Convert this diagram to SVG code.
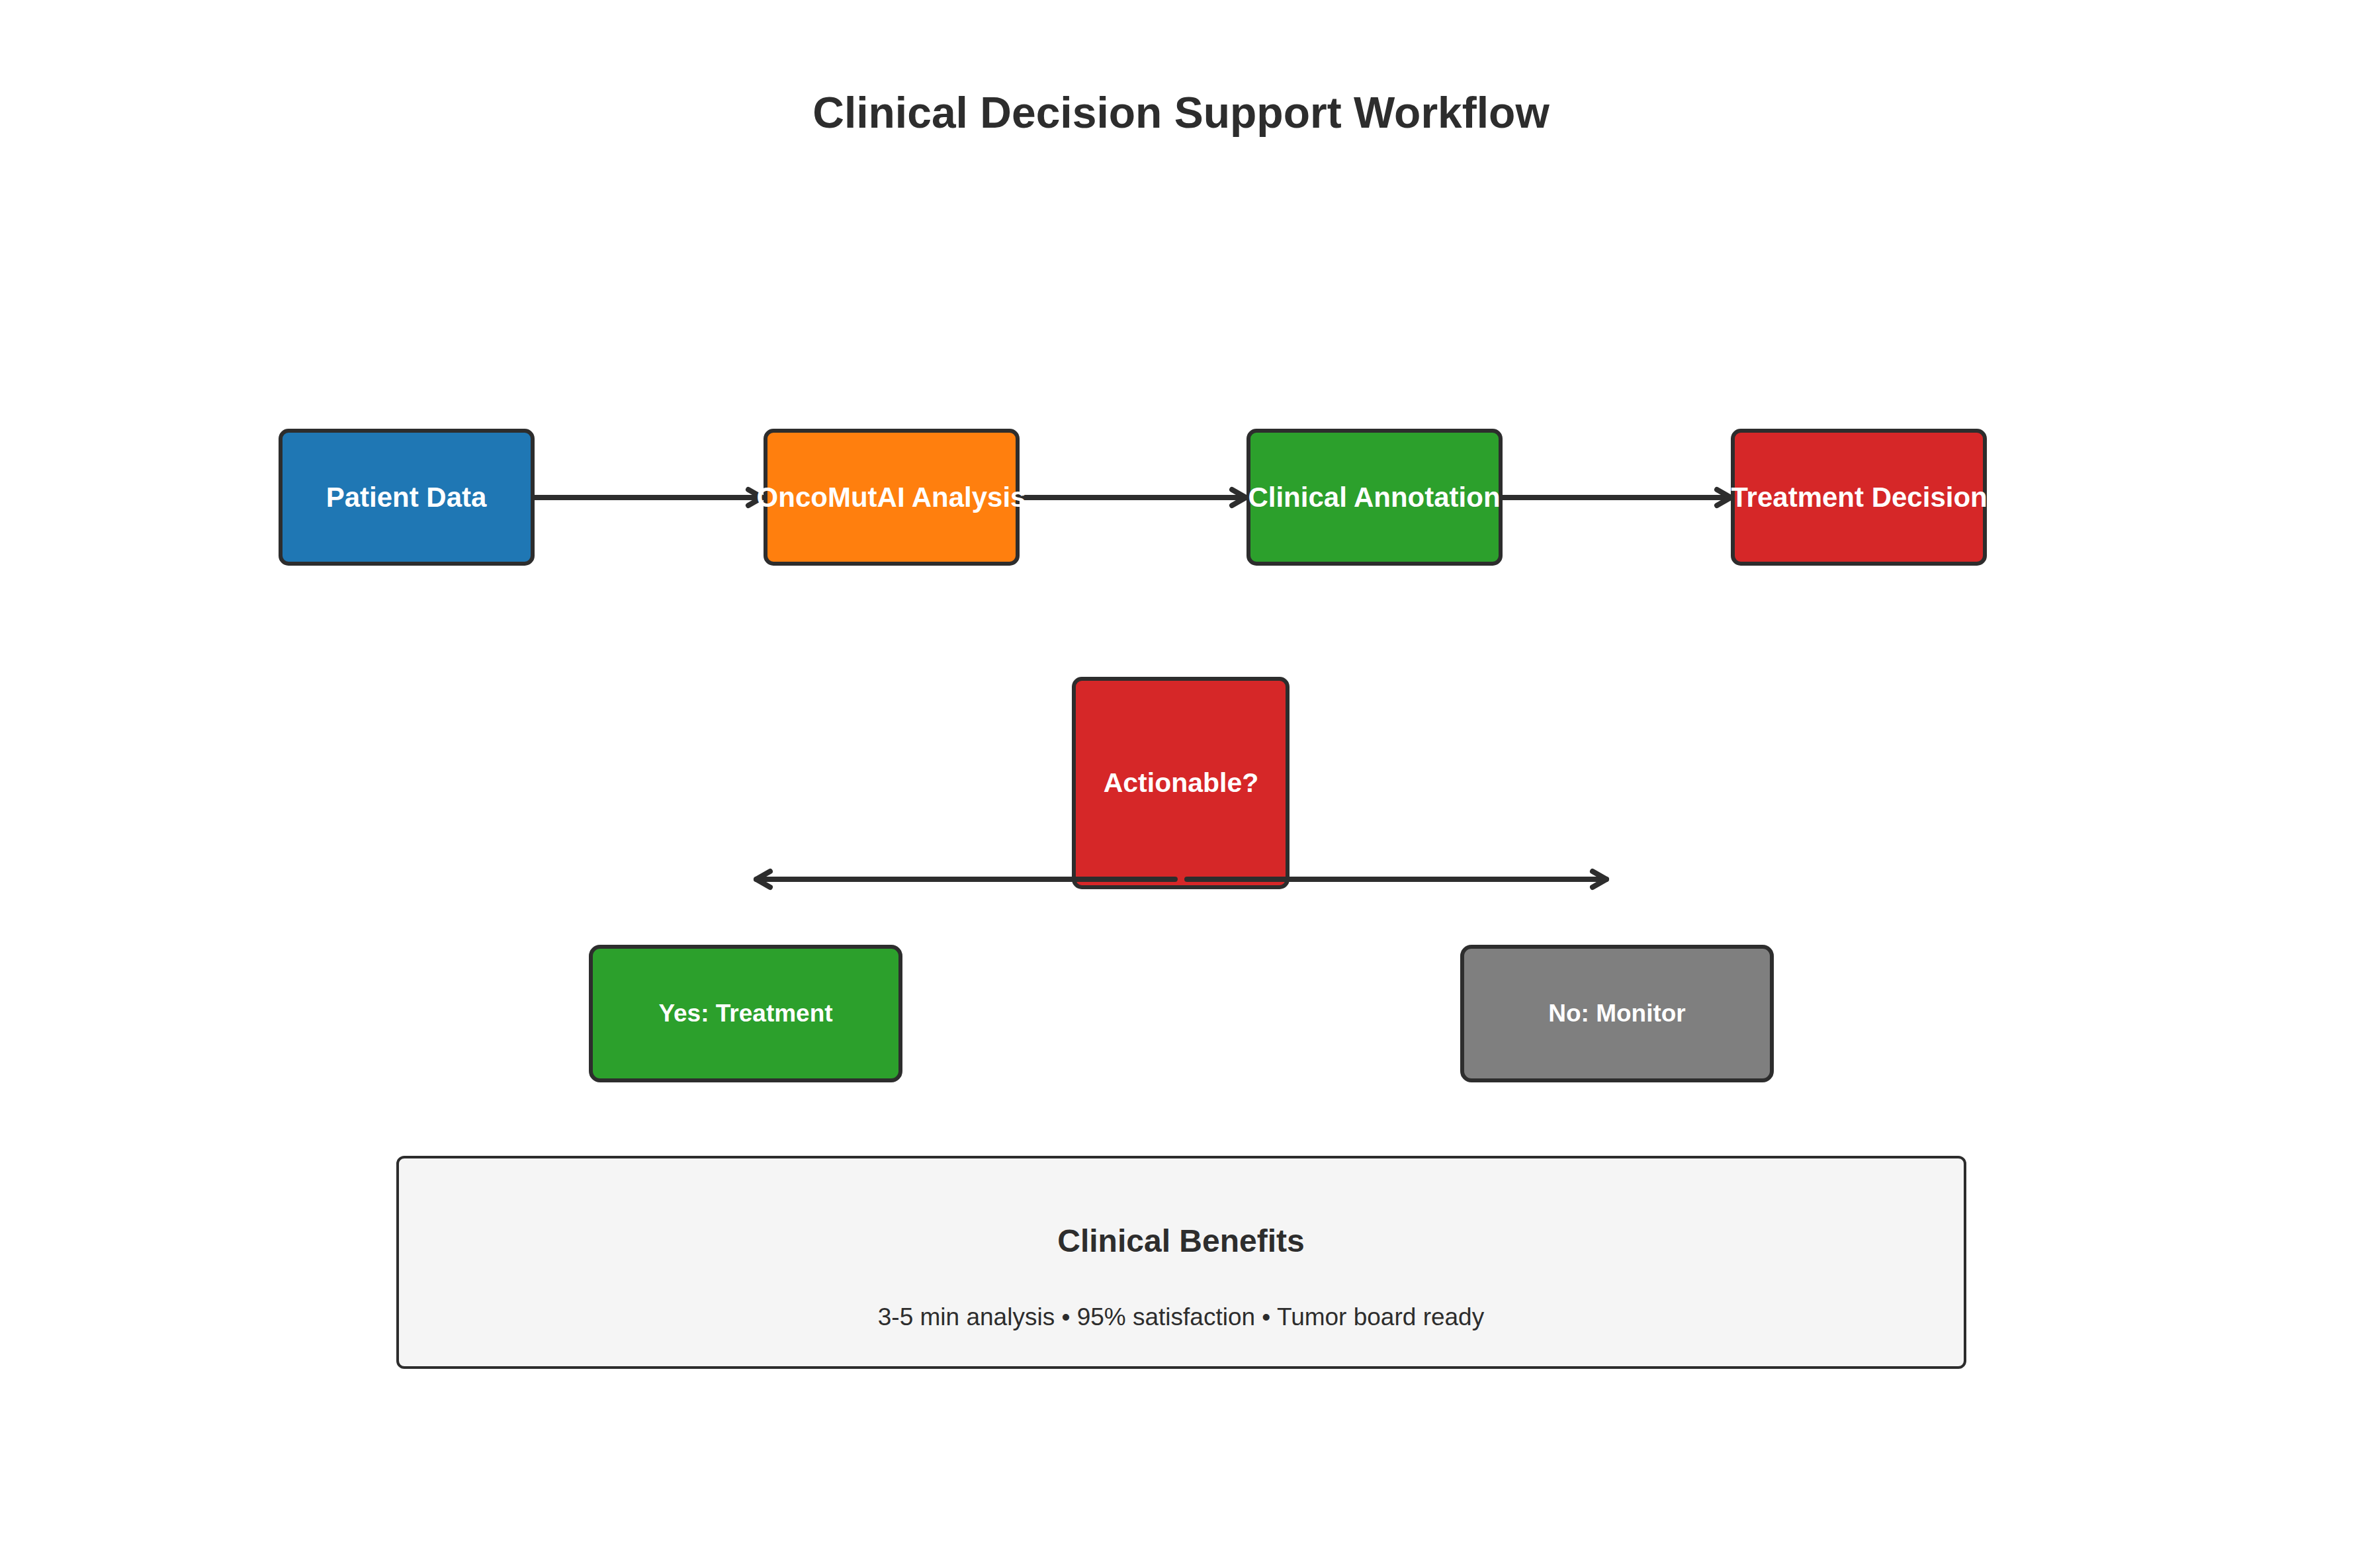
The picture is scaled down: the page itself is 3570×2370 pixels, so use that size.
<svg xmlns="http://www.w3.org/2000/svg" width="3570" height="2370" viewBox="0 0 3570 2370">
<defs>
<style>
.box{stroke:#2d2d2d;stroke-width:6}
.lbl{font-family:"Liberation Sans",Arial,sans-serif;font-weight:bold;fill:#ffffff;text-anchor:middle}
.conn{stroke:#2d2d2d;stroke-width:8;fill:none;stroke-linecap:round}
.title{font-family:"Liberation Sans",Arial,sans-serif;font-weight:bold;fill:#2d2d2d;text-anchor:middle}
.sub{font-family:"Liberation Sans",Arial,sans-serif;fill:#2d2d2d;text-anchor:middle}
</style>
<marker id="arr" markerUnits="userSpaceOnUse" markerWidth="60" markerHeight="60" viewBox="-30 -30 60 60" refX="0" refY="0" orient="auto" overflow="visible">
<path d="M-21,-12 L0,0 L-21,12" fill="none" stroke="#2d2d2d" stroke-width="8" stroke-linecap="round" stroke-linejoin="round"/>
</marker>
</defs>
<rect width="3570" height="2370" fill="#ffffff"/>
<text class="title" x="1785" y="193" font-size="66">Clinical Decision Support Workflow</text>

<g id="node-actionable">
<rect class="box" x="1623" y="1026" width="323" height="315" rx="12" fill="#d62728"/>
<text class="lbl" x="1785" y="1197" font-size="41">Actionable?</text>
</g>

<g id="connectors">
<line class="conn" x1="799" y1="752" x2="1152" y2="752" marker-end="url(#arr)"/>
<line class="conn" x1="1531" y1="752" x2="1883" y2="752" marker-end="url(#arr)"/>
<line class="conn" x1="2260" y1="752" x2="2616" y2="752" marker-end="url(#arr)"/>
<line class="conn" x1="1776" y1="1329" x2="1143" y2="1329" marker-end="url(#arr)"/>
<line class="conn" x1="1794" y1="1329" x2="2428" y2="1329" marker-end="url(#arr)"/>
</g>

<g id="node-patient-data">
<rect class="box" x="424" y="651" width="381" height="201" rx="12" fill="#1f77b4"/>
<text class="lbl" x="614" y="766" font-size="42">Patient Data</text>
</g>
<g id="node-oncomutai">
<rect class="box" x="1157" y="651" width="381" height="201" rx="12" fill="#ff7f0e"/>
<text class="lbl" x="1347" y="766" font-size="42">OncoMutAI Analysis</text>
</g>
<g id="node-clinical-annotation">
<rect class="box" x="1887" y="651" width="381" height="201" rx="12" fill="#2ca02c"/>
<text class="lbl" x="2077" y="766" font-size="42">Clinical Annotation</text>
</g>
<g id="node-treatment-decision">
<rect class="box" x="2619" y="651" width="381" height="201" rx="12" fill="#d62728"/>
<text class="lbl" x="2810" y="766" font-size="42">Treatment Decision</text>
</g>

<g id="node-yes-treatment">
<rect class="box" x="893" y="1431" width="468" height="202" rx="14" fill="#2ca02c"/>
<text class="lbl" x="1127" y="1544" font-size="37">Yes: Treatment</text>
</g>
<g id="node-no-monitor">
<rect class="box" x="2210" y="1431" width="468" height="202" rx="14" fill="#7f7f7f"/>
<text class="lbl" x="2444" y="1544" font-size="37">No: Monitor</text>
</g>

<g id="node-clinical-benefits">
<rect x="601" y="1749" width="2369" height="318" rx="10" fill="#f5f5f5" stroke="#2d2d2d" stroke-width="4"/>
<text class="title" x="1785" y="1892" font-size="48">Clinical Benefits</text>
<text class="sub" x="1785" y="2003" font-size="37">3-5 min analysis • 95% satisfaction • Tumor board ready</text>
</g>
</svg>
